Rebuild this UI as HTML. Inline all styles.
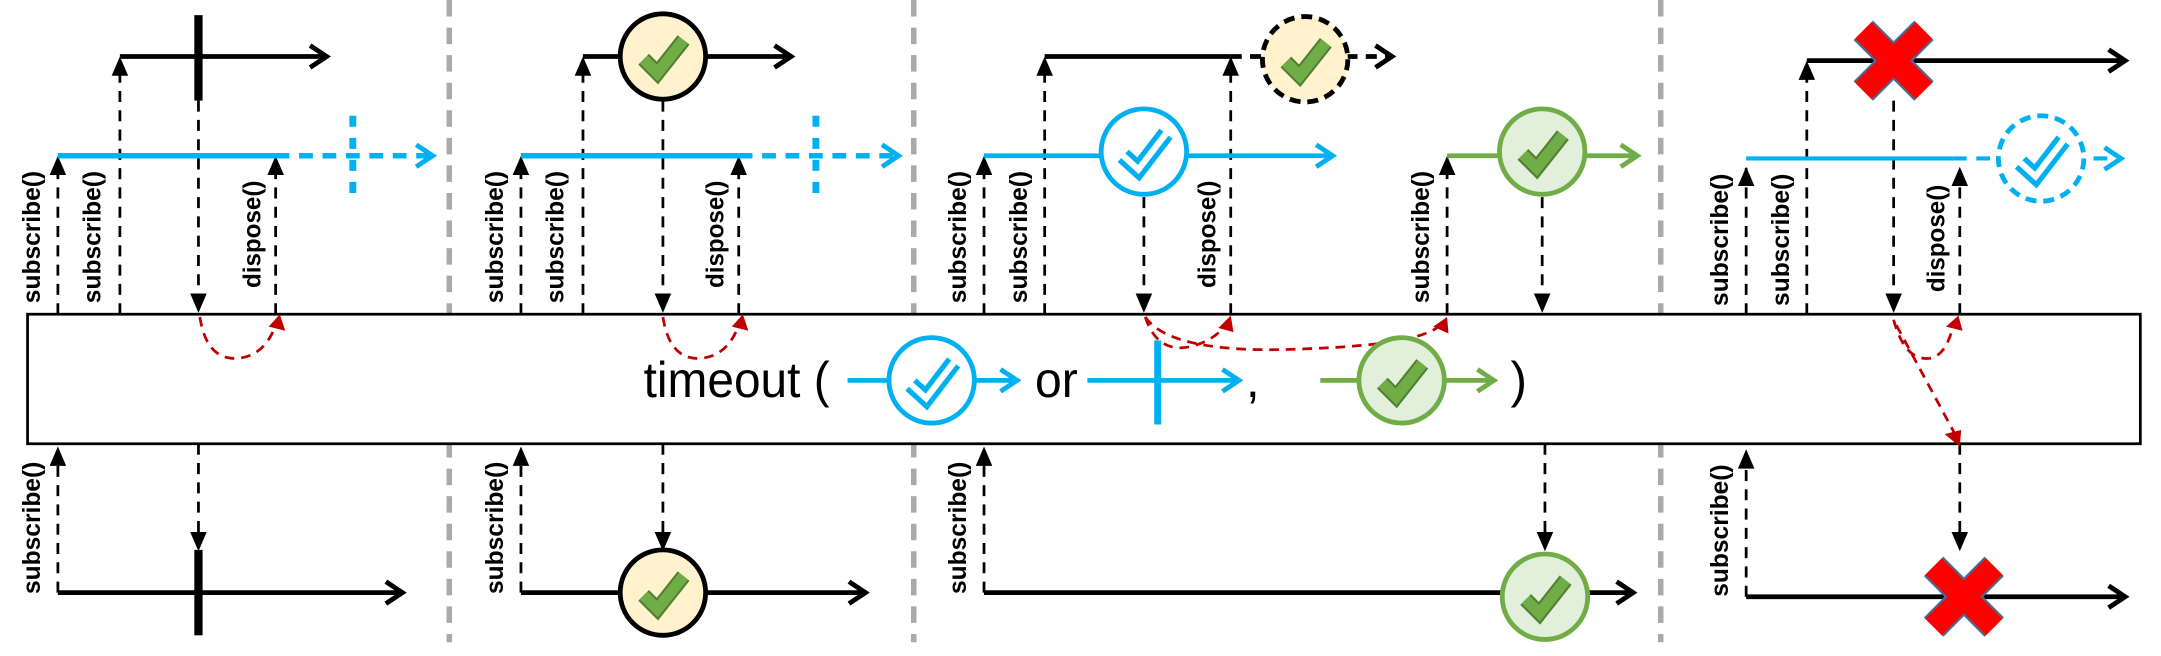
<!DOCTYPE html>
<html><head><meta charset="utf-8"><style>html,body{margin:0;padding:0;background:#fff}svg{display:block}</style></head><body>
<svg width="2161" height="656" viewBox="0 0 1568 476" preserveAspectRatio="none" xmlns="http://www.w3.org/2000/svg" font-family="Liberation Sans, sans-serif">
<defs>
<g id="up"><polygon points="-6,14 6,14 0,0" fill="#000"/></g>
<g id="dn"><polygon points="-6,-14 6,-14 0,0" fill="#000"/></g>
<g id="chk"><polyline points="-14,2 -4,12 15,-12" fill="none" stroke="#507e32" stroke-width="11"/><polyline points="-14,2 -4,12 15,-12" fill="none" stroke="#70ad47" stroke-width="8"/></g>
<g id="bchk"><polyline points="-15,3 -4,13 16,-13" fill="none" stroke="#00b0f0" stroke-width="12" stroke-linejoin="miter"/><polyline points="-15,3 -4,13 16,-13" fill="none" stroke="#fff" stroke-width="4.5"/></g>
<g id="x"><path d="M-22,-22L22,22M22,-22L-22,22" stroke="#41719c" stroke-width="20"/><path d="M-22,-22L22,22M22,-22L-22,22" stroke="#f00" stroke-width="17"/></g>
</defs>
<g stroke="#aaa" stroke-width="4" stroke-dasharray="12,8">
<line x1="326" y1="0" x2="326" y2="466"/><line x1="663" y1="0" x2="663" y2="466"/><line x1="1205" y1="0" x2="1205" y2="466"/>
</g>
<rect x="20" y="228" width="1533" height="94" fill="#fff" stroke="#000" stroke-width="2"/>

<g stroke="#000" stroke-width="2" stroke-dasharray="8,6" fill="none">
<line x1="42" y1="228" x2="42" y2="120"/><line x1="87" y1="228" x2="87" y2="48"/><line x1="144" y1="73" x2="144" y2="215"/><line x1="200" y1="228" x2="200" y2="120"/>
<line x1="42" y1="430" x2="42" y2="335"/><line x1="144" y1="322" x2="144" y2="388"/>
<line x1="378" y1="228" x2="378" y2="120"/><line x1="423" y1="228" x2="423" y2="48"/><line x1="481" y1="73" x2="481" y2="215"/><line x1="536" y1="228" x2="536" y2="120"/>
<line x1="378" y1="430" x2="378" y2="335"/><line x1="481" y1="322" x2="481" y2="388"/>
<line x1="714" y1="228" x2="714" y2="120"/><line x1="758" y1="228" x2="758" y2="48"/><line x1="830" y1="143" x2="830" y2="215"/><line x1="893" y1="228" x2="893" y2="48"/>
<line x1="1050" y1="228" x2="1050" y2="120"/><line x1="1119" y1="143" x2="1119" y2="215"/>
<line x1="714" y1="430" x2="714" y2="335"/><line x1="1121" y1="322" x2="1121" y2="388"/>
<line x1="1267" y1="228" x2="1267" y2="122"/><line x1="1311" y1="228" x2="1311" y2="50"/><line x1="1374" y1="73" x2="1374" y2="215"/><line x1="1422" y1="228" x2="1422" y2="128"/>
<line x1="1267" y1="433" x2="1267" y2="337"/><line x1="1422" y1="322" x2="1422" y2="388"/>
</g>
<use href="#up" x="42" y="113"/><use href="#up" x="87" y="41"/><use href="#dn" x="144" y="227"/><use href="#up" x="200" y="113"/>
<use href="#up" x="42" y="324"/><use href="#dn" x="144" y="400"/>
<use href="#up" x="378" y="113"/><use href="#up" x="423" y="41"/><use href="#dn" x="481" y="227"/><use href="#up" x="536" y="113"/>
<use href="#up" x="378" y="324"/><use href="#dn" x="481" y="400"/>
<use href="#up" x="714" y="113"/><use href="#up" x="758" y="41"/><use href="#dn" x="830" y="227"/><use href="#up" x="893" y="41"/>
<use href="#up" x="1050" y="113"/><use href="#dn" x="1119" y="227"/>
<use href="#up" x="714" y="324"/><use href="#dn" x="1121" y="400"/>
<use href="#up" x="1267" y="121"/><use href="#up" x="1311" y="44"/><use href="#dn" x="1374" y="227"/><use href="#up" x="1422" y="121"/>
<use href="#up" x="1267" y="326"/><use href="#dn" x="1422" y="400"/>

<g stroke="#c00000" stroke-width="2" stroke-dasharray="7,5" fill="none">
<path d="M145 230 Q150 262 173 260 Q192 258 200 236"/>
<path d="M481 230 Q486 262 509 260 Q528 258 536 236"/>
<path d="M831 230 Q840 258 866 251 Q882 246 888 237"/>
<path d="M831 230 Q850 258 950 253 Q1030 250 1045 236"/>
<path d="M1374 232 Q1382 262 1400 260 Q1412 258 1417 237"/>
<path d="M1376 236 L1418 314"/>
</g>
<g fill="#c00000">
<polygon points="195,237 207,240 203,228"/>
<polygon points="531,237 543,240 539,228"/>
<polygon points="884,238 895,241 893,229"/>
<polygon points="1040,237 1051,242 1050,230"/>
<polygon points="1412,237 1424,240 1421,229"/>
<polygon points="1411,315 1423,312 1422,324"/>
</g>

<g fill="none" stroke-width="3.5">
<path d="M87 41H237M225 33L237 41L225 49" stroke="#000"/>
<path d="M42 430H292M280 422L292 430L280 438" stroke="#000"/>
<path d="M423 41H574M562 33L574 41L562 49" stroke="#000"/>
<path d="M378 430H628M616 422L628 430L616 438" stroke="#000"/>
<path d="M758 41H893" stroke="#000"/>
<path d="M893 41H1010" stroke="#000" stroke-dasharray="8,6"/><path d="M998 33L1010 41L998 49" stroke="#000"/>
<path d="M714 430H1185M1173 422L1185 430L1173 438" stroke="#000"/>
<path d="M1311 44H1542M1530 36L1542 44L1530 52" stroke="#000"/>
<path d="M1267 433H1542M1530 425L1542 433L1530 441" stroke="#000"/>
<path d="M42 113H200" stroke="#00b0f0" stroke-width="4"/>
<path d="M200 113H312" stroke="#00b0f0" stroke-width="4" stroke-dasharray="10,7"/><path d="M302 105L314 113L302 121" stroke="#00b0f0"/>
<path d="M256 84V140" stroke="#00b0f0" stroke-width="5" stroke-dasharray="8,8"/>
<path d="M378 113H536" stroke="#00b0f0" stroke-width="4"/>
<path d="M536 113H650" stroke="#00b0f0" stroke-width="4" stroke-dasharray="10,7"/><path d="M640 105L652 113L640 121" stroke="#00b0f0"/>
<path d="M592 84V140" stroke="#00b0f0" stroke-width="5" stroke-dasharray="8,8"/>
<path d="M714 113H967M955 105L967 113L955 121" stroke="#00b0f0"/>
<path d="M1050 113H1188M1176 105L1188 113L1176 121" stroke="#70ad47"/>
<path d="M1267 115H1417" stroke="#00b0f0" stroke-width="3"/>
<path d="M1417 115H1537" stroke="#00b0f0" stroke-width="3" stroke-dasharray="10,7"/><path d="M1527 107L1539 115L1527 123" stroke="#00b0f0"/>
<path d="M615 276H738M726 268L738 276L726 284" stroke="#00b0f0"/>
<path d="M789 276H899M887 268L899 276L887 284" stroke="#00b0f0"/>
<path d="M840 247V308" stroke="#00b0f0" stroke-width="5"/>
<path d="M958 276H1084M1072 268L1084 276L1072 284" stroke="#70ad47"/>
</g>

<rect x="141" y="11" width="6" height="62"/><rect x="141" y="399" width="6" height="62"/>

<g stroke-width="3.5">
<circle cx="481" cy="41" r="31" fill="#fff2cc" stroke="#000"/><use href="#chk" x="481" y="41"/>
<circle cx="481" cy="430" r="31" fill="#fff2cc" stroke="#000"/><use href="#chk" x="481" y="430"/>
<circle cx="947" cy="43" r="31" fill="#fff2cc" stroke="#000" stroke-dasharray="8,5"/><use href="#chk" x="947" y="43"/>
<circle cx="830" cy="110" r="31" fill="#fff" stroke="#00b0f0"/><use href="#bchk" x="830" y="110"/>
<circle cx="1119" cy="110" r="31" fill="#e2efda" stroke="#70ad47"/><use href="#chk" x="1119" y="110"/>
<circle cx="1121" cy="433" r="31" fill="#e2efda" stroke="#70ad47"/><use href="#chk" x="1121" y="433"/>
<circle cx="1481" cy="115" r="31" fill="#fff" stroke="#00b0f0" stroke-dasharray="8,5"/><use href="#bchk" x="1481" y="115"/>
<circle cx="676" cy="276" r="31" fill="#fff" stroke="#00b0f0"/><use href="#bchk" x="676" y="276"/>
<circle cx="1017" cy="276" r="31" fill="#e2efda" stroke="#70ad47"/><use href="#chk" x="1017" y="276"/>
</g>
<use href="#x" x="1374" y="44"/><use href="#x" x="1425" y="433"/>

<g font-size="36" fill="#000">
<text x="467" y="288" textLength="135" lengthAdjust="spacingAndGlyphs">timeout (</text>
<text x="751" y="288" textLength="31" lengthAdjust="spacingAndGlyphs">or</text>
<text x="904" y="288">,</text>
<text x="1096" y="288">)</text>
</g>

<g font-size="18" font-weight="bold" fill="#000">
<text transform="translate(29,220) rotate(-90)" textLength="96" lengthAdjust="spacingAndGlyphs">subscribe()</text>
<text transform="translate(73,220) rotate(-90)" textLength="96" lengthAdjust="spacingAndGlyphs">subscribe()</text>
<text transform="translate(189,209) rotate(-90)" textLength="78" lengthAdjust="spacingAndGlyphs">dispose()</text>
<text transform="translate(29,431) rotate(-90)" textLength="96" lengthAdjust="spacingAndGlyphs">subscribe()</text>
<text transform="translate(365,220) rotate(-90)" textLength="96" lengthAdjust="spacingAndGlyphs">subscribe()</text>
<text transform="translate(409,220) rotate(-90)" textLength="96" lengthAdjust="spacingAndGlyphs">subscribe()</text>
<text transform="translate(525,209) rotate(-90)" textLength="78" lengthAdjust="spacingAndGlyphs">dispose()</text>
<text transform="translate(365,431) rotate(-90)" textLength="96" lengthAdjust="spacingAndGlyphs">subscribe()</text>
<text transform="translate(701,220) rotate(-90)" textLength="96" lengthAdjust="spacingAndGlyphs">subscribe()</text>
<text transform="translate(745,220) rotate(-90)" textLength="96" lengthAdjust="spacingAndGlyphs">subscribe()</text>
<text transform="translate(882,209) rotate(-90)" textLength="78" lengthAdjust="spacingAndGlyphs">dispose()</text>
<text transform="translate(1037,220) rotate(-90)" textLength="96" lengthAdjust="spacingAndGlyphs">subscribe()</text>
<text transform="translate(701,431) rotate(-90)" textLength="96" lengthAdjust="spacingAndGlyphs">subscribe()</text>
<text transform="translate(1254,222) rotate(-90)" textLength="96" lengthAdjust="spacingAndGlyphs">subscribe()</text>
<text transform="translate(1298,222) rotate(-90)" textLength="96" lengthAdjust="spacingAndGlyphs">subscribe()</text>
<text transform="translate(1411,212) rotate(-90)" textLength="78" lengthAdjust="spacingAndGlyphs">dispose()</text>
<text transform="translate(1254,433) rotate(-90)" textLength="96" lengthAdjust="spacingAndGlyphs">subscribe()</text>
</g>
</svg>
</body></html>
